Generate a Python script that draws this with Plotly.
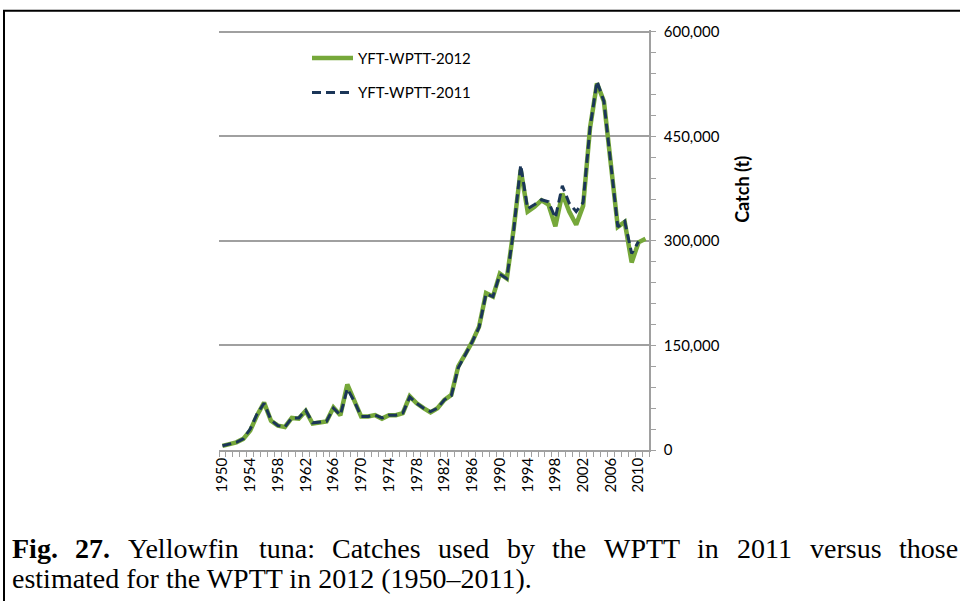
import plotly.graph_objects as go

# ---------------- data ----------------
years = list(range(1950, 2012))

catch_2012 = [
    6000, 8000, 11000, 16000, 28000, 50000, 68000, 42000, 35000, 33000,
    46000, 45000, 56000, 38000, 39000, 41000, 61000, 50000, 94000, 70000,
    48000, 48000, 50000, 45000, 50000, 50000, 53000, 77000, 67000, 60000,
    54000, 60000, 72000, 79000, 120000, 137000, 155000, 177000, 225000, 220000,
    253000, 246000, 318000, 402000, 342000, 349000, 358000, 352000, 321000, 368000,
    342000, 323000, 350000, 462000, 526000, 500000, 414000, 320000, 327000, 269000,
    298000, 303000,
]

catch_2011 = [
    6000, 8000, 11000, 16000, 30000, 52000, 67000, 43000, 35000, 33000,
    46000, 46000, 57000, 39000, 40000, 41000, 60000, 50000, 88000, 70000,
    48000, 48000, 50000, 46000, 50000, 50000, 53000, 76000, 67000, 60000,
    55000, 60000, 72000, 78000, 118000, 136000, 155000, 176000, 224000, 220000,
    252000, 246000, 316000, 409000, 346000, 352000, 359000, 356000, 333000, 379000,
    354000, 342000, 355000, 462000, 529000, 500000, 414000, 320000, 328000, 282000,
    299000, None,
]

series_names = ["YFT-WPTT-2012", "YFT-WPTT-2011"]
y_tick_step = 150000
y_minor_step = 30000
y_max = 600000
x_label_years = list(range(1950, 2011, 4))
y_title = "Catch (t)"

caption_line1 = [("Fig.", True), ("27.", True), ("Yellowfin", False), ("tuna:", False),
                 ("Catches", False), ("used", False), ("by", False), ("the", False),
                 ("WPTT", False), ("in", False), ("2011", False), ("versus", False),
                 ("those", False)]
caption_line2 = "estimated for the WPTT in 2012 (1950\u20132011)."

# ---------------- layout helpers ----------------
W, H = 960, 601
Y_TOP = y_max * 1.004          # tiny headroom so the 600,000 gridline is drawn
L, R, B = 219, 649, 450
T = B - 418 * Y_TOP / y_max


def px_x(p):
    return (p - L) / (R - L)


def px_y(p):
    return (B - p) / (B - T)


# Times New Roman advance widths (per 1000 em) for justified caption layout
TIMES = {"F": 556, "i": 278, "g": 500, ".": 250, "2": 500, "7": 500, "0": 500, "1": 500,
         "Y": 722, "e": 444, "l": 278, "o": 500, "w": 722, "f": 333, "n": 500,
         "t": 278, "u": 500, "a": 444, ":": 278, "C": 667, "c": 444, "h": 500,
         "s": 389, "d": 500, "b": 500, "y": 500, "W": 944, "P": 556, "T": 611,
         "v": 500, "r": 333}
TIMES_BOLD = dict(TIMES)
TIMES_BOLD.update({"F": 611, "i": 278, "g": 500})

CAP_SIZE = 28


def word_width(w, bold):
    tab = TIMES_BOLD if bold else TIMES
    return sum(tab.get(ch, 500) for ch in w) * CAP_SIZE / 1000.0


fig = go.Figure()

fig.add_trace(go.Scatter(
    x=years, y=catch_2012, mode="lines", name=series_names[0],
    line=dict(color="#76a83a", width=4.5), legendgroup="g1",
))
fig.add_trace(go.Scatter(
    x=years, y=catch_2011, mode="lines", name=series_names[1],
    line=dict(color="#1b3658", width=3, dash="9px,5px"), legendgroup="g2",
))

axis_grey = "#a0a0a0"
tick_font = dict(family="Lato, 'Open Sans', sans-serif", size=15, color="#000000")

fig.update_layout(
    width=W, height=H,
    margin=dict(l=L, r=W - R, t=T, b=H - B, pad=0),
    paper_bgcolor="white", plot_bgcolor="white",
    showlegend=True,
    legend=dict(
        x=px_x(307), y=px_y(42), xanchor="left", yanchor="top",
        font=tick_font, bgcolor="rgba(0,0,0,0)", tracegroupgap=12,
        traceorder="grouped", itemwidth=41,
    ),
    xaxis=dict(
        range=[1949.5, 2011.5], tickmode="array", tickvals=x_label_years,
        ticktext=[str(y) for y in x_label_years], tickangle=-90, ticks="",
        showgrid=False, zeroline=False, showline=True, linecolor=axis_grey,
        linewidth=1.5, tickfont=tick_font,
        minor=dict(tickmode="linear", tick0=1949.5, dtick=1, ticks="outside",
                   ticklen=5, tickcolor=axis_grey, tickwidth=1.2, showgrid=False),
    ),
    yaxis=dict(
        side="right", range=[0, Y_TOP], tickmode="linear", tick0=0,
        dtick=y_tick_step, tickformat=",", showgrid=True, gridcolor=axis_grey,
        gridwidth=1.5, zeroline=False, showline=True, linecolor=axis_grey,
        linewidth=1.5, ticks="outside", ticklen=5, tickcolor=axis_grey,
        tickwidth=1.2, tickfont=tick_font, ticklabelstandoff=5,
        minor=dict(tickmode="linear", tick0=0, dtick=y_minor_step,
                   ticks="outside", ticklen=5, tickcolor=axis_grey,
                   tickwidth=1.2, showgrid=False),
    ),
)

annotations = []
# y-axis title
annotations.append(dict(
    text="<b>" + y_title + "</b>", xref="paper", yref="paper",
    x=px_x(742), y=px_y(190), textangle=-90, showarrow=False,
    font=dict(family="Lato, 'Open Sans', sans-serif", size=18, color="#000000"),
    xanchor="center", yanchor="middle",
))

# caption line 1 (justified)
left, right = 12, 958
widths = [word_width(w, b) for w, b in caption_line1]
gap = (right - left - sum(widths)) / (len(caption_line1) - 1)
xpos = left
for (w, b), ww in zip(caption_line1, widths):
    annotations.append(dict(
        text=("<b>%s</b>" % w) if b else w, xref="paper", yref="paper",
        x=px_x(xpos - 1), y=px_y(548), xanchor="left", yanchor="middle",
        showarrow=False, borderpad=0,
        font=dict(family="'Liberation Serif', 'Times New Roman', serif",
                  size=CAP_SIZE, color="#000000"),
    ))
    xpos += ww + gap

annotations.append(dict(
    text=caption_line2, xref="paper", yref="paper",
    x=px_x(11), y=px_y(578), xanchor="left", yanchor="middle",
    showarrow=False, borderpad=0,
    font=dict(family="'Liberation Serif', 'Times New Roman', serif",
              size=CAP_SIZE, color="#000000"),
))

fig.update_layout(annotations=annotations)

# outer frame
fig.add_shape(type="rect", xref="paper", yref="paper",
              x0=px_x(4), x1=px_x(975), y0=px_y(625), y1=px_y(11),
              line=dict(color="black", width=2), layer="above")

fig.write_html(
    "out.html",
    config={"displayModeBar": False},
    post_script="document.body.style.margin='0';document.body.style.overflow='hidden';",
)
